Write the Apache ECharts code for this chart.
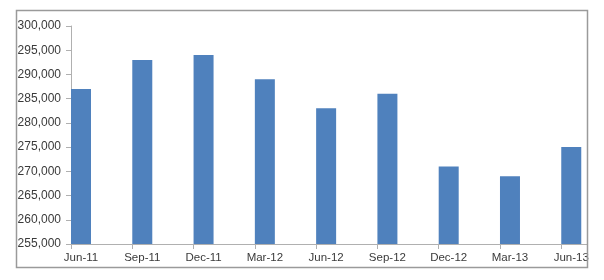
<!DOCTYPE html>
<html>
<head>
<meta charset="utf-8">
<script src="https://cdn.jsdelivr.net/npm/echarts@6/dist/echarts.min.js"></script>
<style>
html,body{margin:0;padding:0;background:#fff;}
#chart{width:604px;height:280px;}
</style>
</head>
<body>
<div id="chart"></div>
<script>
var categories = ['Jun-11','Sep-11','Dec-11','Mar-12','Jun-12','Sep-12','Dec-12','Mar-13','Jun-13'];
var values = [287000, 293000, 294000, 289000, 283000, 286000, 271000, 269000, 275000];
var yMin = 255000, yMax = 300000, yStep = 5000;

var chart = echarts.init(document.getElementById('chart'));
var font = 'Liberation Sans';
chart.setOption({
  animation: false,
  graphic: [{
    type: 'rect',
    shape: {x: 16.5, y: 10.5, width: 571, height: 257},
    style: {fill: 'none', stroke: '#9a9a9a', lineWidth: 1.5},
    z: 100
  }],
  grid: {left: 71, right: 17, top: 26, bottom: 36, containLabel: false},
  xAxis: {
    type: 'value',
    min: 0,
    max: 8.42,
    interval: 1,
    splitLine: {show: false},
    axisLine: {show: true, lineStyle: {color: '#b0b0b0', width: 1}},
    axisTick: {show: true, length: 5, inside: false, lineStyle: {color: '#b0b0b0'}},
    axisLabel: {
      margin: 8,
      formatter: function (v) {
        var i = Math.round(v);
        if (Math.abs(v - i) > 1e-6 || !categories[i]) return '';
        return '{a|' + categories[i] + '}';
      },
      rich: {a: {padding: [0, 0, 0, 20], fontFamily: font, fontSize: 11.5, color: '#3a3a3a'}},
      showMaxLabel: false
    }
  },
  yAxis: {
    type: 'value',
    min: yMin,
    max: yMax,
    interval: yStep,
    splitLine: {show: false},
    axisLine: {show: true, lineStyle: {color: '#b0b0b0', width: 1}},
    axisTick: {show: true, length: 5, lineStyle: {color: '#b0b0b0'}},
    axisLabel: {
      margin: 10,
      fontFamily: font,
      fontSize: 12,
      color: '#3a3a3a',
      formatter: function (v) { return v.toLocaleString('en-US'); }
    }
  },
  series: [
    {type: 'bar', data: [], barWidth: 20, barGap: '0%'},
    {
      type: 'bar',
      barWidth: 20,
      barGap: '0%',
      itemStyle: {color: '#4f81bd'},
      data: values.map(function (v, i) { return [i, v]; })
    }
  ]
});
</script>
</body>
</html>
